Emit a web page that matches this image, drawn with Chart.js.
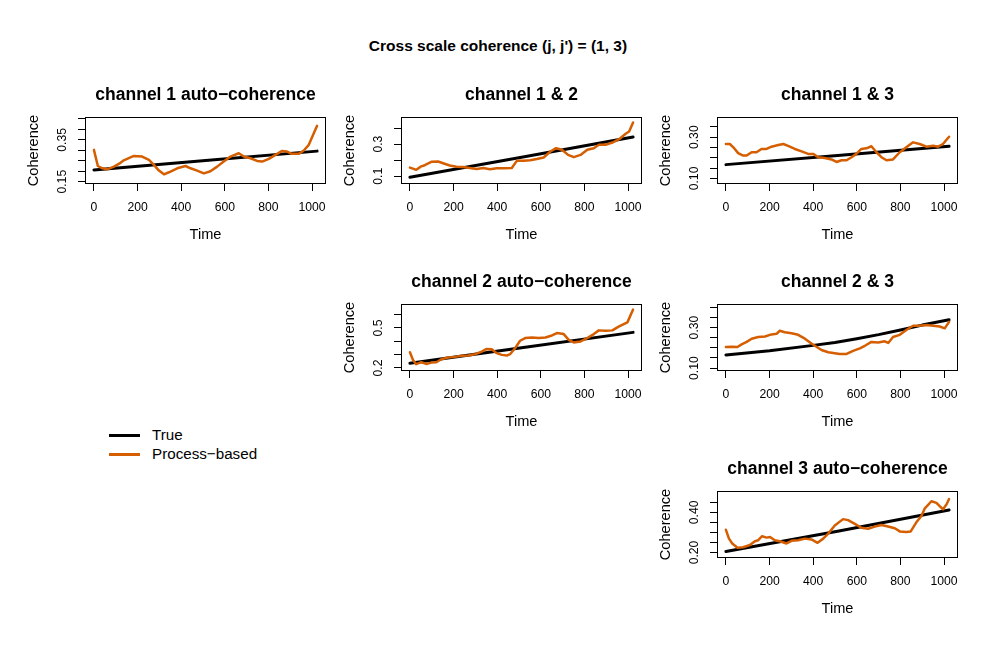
<!DOCTYPE html>
<html>
<head>
<meta charset="utf-8">
<script src="https://cdn.jsdelivr.net/npm/chart.js@4.4.1/dist/chart.umd.min.js"></script>
<style>
  body { margin: 0; background: #fff; }
  #page { position: relative; width: 996px; height: 664px; overflow: hidden;
          font-family: "Liberation Sans", Arial, sans-serif; color: #000; }
  canvas { position: absolute; }
  .main { position: absolute; left: 0; width: 996px; top: 36px; text-align: center;
          font-weight: bold; font-size: 15.5px; line-height: 20px; }
  .legline { position: absolute; left: 109px; width: 31px; }
  .legtext { position: absolute; left: 152px; font-size: 15.2px; line-height: 18px; white-space: nowrap; }
</style>
</head>
<body>
<div id="page">
  <div class="main">Cross scale coherence (j, j') = (1, 3)</div>

  <canvas id="p1"></canvas>
  <canvas id="p2"></canvas>
  <canvas id="p3"></canvas>
  <canvas id="p4"></canvas>
  <canvas id="p5"></canvas>
  <canvas id="p6"></canvas>

  <div class="legline" style="top:434px;height:3px;background:#000"></div>
  <div class="legtext" style="top:426px">True</div>
  <div class="legline" style="top:453px;height:2.5px;background:#D55E00"></div>
  <div class="legtext" style="top:445px">Process&minus;based</div>
</div>

<script>
'use strict';
// ── Données ────────────────────────────────────────────────────────────────
const xTicks = [0, 200, 400, 600, 800, 1000];
const xLabels = ['0', '200', '400', '600', '800', '1000'];

// channel 1 auto-coherence
const tEst1 = [0, 18, 38, 61, 92, 122, 137, 183, 221, 252, 275, 298, 321, 344, 382, 420, 443, 473, 504, 534, 565, 595, 626, 664, 687, 718, 748, 771, 802, 832, 863, 885, 908, 939, 962, 985, 1005, 1023];
const est1  = [0.302, 0.225, 0.214, 0.209, 0.222, 0.240, 0.252, 0.273, 0.270, 0.254, 0.230, 0.203, 0.185, 0.195, 0.214, 0.225, 0.214, 0.203, 0.190, 0.200, 0.222, 0.246, 0.270, 0.286, 0.270, 0.262, 0.249, 0.246, 0.259, 0.278, 0.297, 0.294, 0.283, 0.283, 0.299, 0.326, 0.374, 0.417];
const tTrue1 = [0, 512, 1023];
const true1  = [0.206, 0.251, 0.296];
const yTicks1  = [0.15, 0.20, 0.25, 0.30, 0.35, 0.40, 0.45];
const yLabels1 = ['0.15', '', '', '', '0.35', '', ''];

// channel 1 & 2
const tEst2 = [0, 14, 29, 49, 68, 98, 129, 152, 183, 214, 244, 275, 306, 336, 367, 398, 429, 467, 490, 521, 551, 582, 613, 644, 670, 697, 725, 751, 782, 813, 843, 866, 897, 928, 959, 989, 1005, 1023];
const est2  = [0.154, 0.148, 0.140, 0.160, 0.169, 0.190, 0.192, 0.181, 0.167, 0.160, 0.158, 0.152, 0.146, 0.152, 0.144, 0.150, 0.150, 0.152, 0.196, 0.196, 0.200, 0.208, 0.217, 0.254, 0.275, 0.265, 0.233, 0.219, 0.233, 0.265, 0.275, 0.296, 0.296, 0.310, 0.331, 0.365, 0.379, 0.435];
const tTrue2 = [0, 512, 1023];
const true2  = [0.094, 0.219, 0.344];
const yTicks2  = [0.1, 0.2, 0.3, 0.4];
const yLabels2 = ['0.1', '', '0.3', ''];

// channel 1 & 3
const tEst3 = [0, 18, 34, 56, 79, 95, 118, 140, 163, 186, 209, 240, 263, 285, 316, 347, 377, 400, 423, 453, 484, 507, 530, 553, 576, 598, 621, 644, 667, 690, 713, 736, 766, 797, 827, 858, 888, 919, 950, 973, 995, 1023];
const est3  = [0.267, 0.267, 0.251, 0.223, 0.211, 0.211, 0.227, 0.227, 0.243, 0.243, 0.254, 0.262, 0.267, 0.258, 0.243, 0.231, 0.219, 0.219, 0.203, 0.199, 0.192, 0.180, 0.188, 0.188, 0.203, 0.219, 0.243, 0.246, 0.256, 0.227, 0.203, 0.188, 0.192, 0.227, 0.251, 0.275, 0.267, 0.254, 0.259, 0.254, 0.267, 0.302];
const tTrue3 = [0, 512, 1023];
const true3  = [0.167, 0.211, 0.256];
const yTicks3  = [0.10, 0.15, 0.20, 0.25, 0.30, 0.35];
const yLabels3 = ['0.10', '', '', '', '0.30', ''];

// channel 2 auto-coherence
const tEst4 = [0, 14, 29, 52, 75, 98, 121, 144, 175, 206, 237, 267, 298, 329, 352, 375, 398, 421, 444, 459, 482, 505, 528, 559, 590, 621, 651, 674, 705, 728, 751, 782, 813, 843, 866, 897, 928, 959, 997, 1023];
const est4  = [0.318, 0.260, 0.228, 0.243, 0.230, 0.240, 0.243, 0.265, 0.278, 0.283, 0.291, 0.293, 0.303, 0.323, 0.343, 0.341, 0.311, 0.298, 0.293, 0.303, 0.348, 0.404, 0.424, 0.429, 0.424, 0.429, 0.444, 0.462, 0.454, 0.411, 0.391, 0.399, 0.424, 0.454, 0.482, 0.479, 0.482, 0.512, 0.542, 0.638];
const tTrue4 = [0, 512, 1023];
const true4  = [0.235, 0.351, 0.467];
const yTicks4  = [0.2, 0.3, 0.4, 0.5, 0.6];
const yLabels4 = ['0.2', '', '', '0.5', ''];

// channel 2 & 3
const tEst5 = [0, 26, 53, 72, 95, 118, 148, 179, 209, 232, 247, 270, 301, 331, 362, 392, 415, 438, 469, 499, 522, 553, 583, 614, 637, 667, 698, 728, 744, 766, 797, 827, 858, 888, 919, 950, 980, 1003, 1023];
const est5  = [0.204, 0.205, 0.204, 0.217, 0.229, 0.245, 0.253, 0.256, 0.266, 0.269, 0.284, 0.277, 0.272, 0.264, 0.245, 0.221, 0.205, 0.189, 0.178, 0.173, 0.169, 0.170, 0.185, 0.197, 0.210, 0.229, 0.226, 0.232, 0.224, 0.253, 0.264, 0.288, 0.309, 0.309, 0.312, 0.309, 0.305, 0.296, 0.328];
const tTrue5 = [0, 200, 400, 500, 600, 700, 800, 900, 1023];
const true5  = [0.165, 0.185, 0.212, 0.226, 0.245, 0.265, 0.288, 0.312, 0.338];
const yTicks5  = [0.10, 0.15, 0.20, 0.25, 0.30, 0.35, 0.40];
const yLabels5 = ['0.10', '', '', '', '0.30', '', ''];

// channel 3 auto-coherence
const tEst6 = [0, 14, 29, 53, 79, 110, 133, 148, 166, 186, 202, 224, 247, 278, 301, 331, 362, 392, 420, 446, 469, 499, 537, 560, 591, 621, 652, 682, 713, 743, 774, 797, 827, 847, 873, 896, 911, 942, 965, 995, 1011, 1023];
const est6  = [0.313, 0.269, 0.245, 0.224, 0.226, 0.237, 0.256, 0.261, 0.281, 0.274, 0.277, 0.261, 0.256, 0.245, 0.258, 0.261, 0.269, 0.265, 0.248, 0.269, 0.294, 0.334, 0.366, 0.361, 0.342, 0.323, 0.318, 0.329, 0.337, 0.329, 0.321, 0.305, 0.302, 0.305, 0.350, 0.382, 0.418, 0.455, 0.447, 0.415, 0.439, 0.466];
const tTrue6 = [0, 512, 1023];
const true6  = [0.205, 0.306, 0.411];
const yTicks6  = [0.20, 0.25, 0.30, 0.35, 0.40, 0.45];
const yLabels6 = ['0.20', '', '', '', '0.40', ''];

// ── Mise en page ─────────────────────────────────────────────────────────────
const FONT = '"Liberation Sans", Arial, sans-serif';
const ORANGE = '#D55E00';
const X_RANGE = [-40.92, 1063.92];      // 0..1023 étendu de 4 % (style R)
const M = { left: 80, top: 45, right: 20, bottom: 75 };
const BOX_W = 241, BOX_H = 67;

Chart.defaults.font.family = FONT;
Chart.defaults.color = '#000';

const mctx = document.createElement('canvas').getContext('2d');
function textW(s, px) { mctx.font = px + 'px ' + FONT; return mctx.measureText(s).width; }

const boxPlugin = {
  id: 'rbox',
  afterDatasetsDraw(chart) {
    const { ctx, chartArea: a } = chart;
    ctx.save();
    ctx.strokeStyle = '#000';
    ctx.lineWidth = 1;
    ctx.strokeRect(Math.round(a.left) + 0.5, Math.round(a.top) + 0.5, Math.round(a.width) - 1, Math.round(a.height) - 1);
    ctx.restore();
  }
};

const pts = (t, v) => t.map((x, i) => ({ x, y: v[i] }));

function makePanel(id, left, top, title, tEst, est, tTrue, tru, yMin, yMax, yTicks, yLabels) {
  const cv = document.getElementById(id);
  const w = M.left + BOX_W + M.right, h = M.top + BOX_H + M.bottom;
  cv.width = w; cv.height = h;
  cv.style.left = (left - M.left) + 'px';
  cv.style.top = (top - M.top) + 'px';
  cv.style.width = w + 'px'; cv.style.height = h + 'px';

  const widest = Math.max(...yLabels.map(s => textW(s, 12)));
  const yPad = 15 - widest / 2;

  return new Chart(cv, {
    type: 'line',
    data: {
      datasets: [
        { label: 'Process\u2212based', data: pts(tEst, est), borderColor: ORANGE, borderWidth: 2.5, order: 0 },
        { label: 'True', data: pts(tTrue, tru), borderColor: '#000', borderWidth: 3, order: 1 },
      ],
    },
    options: {
      responsive: false, animation: false, events: [],
      devicePixelRatio: 1,
      layout: { padding: { left: 0, top: 0, right: M.right, bottom: 0 } },
      elements: { point: { radius: 0 }, line: { tension: 0, borderCapStyle: 'round', borderJoinStyle: 'round' } },
      plugins: {
        legend: { display: false },
        tooltip: { enabled: false },
        title: {
          display: true, text: title, fullSize: false,
          font: { size: 17.5, weight: 'bold', family: FONT, lineHeight: 1.2 },
          padding: { top: 12.5, bottom: 11.5 }, color: '#000',
        },
      },
      scales: {
        x: {
          type: 'linear', min: X_RANGE[0], max: X_RANGE[1],
          afterBuildTicks: s => { s.ticks = xTicks.map(v => ({ value: v })); },
          afterFit: s => { s.height = M.bottom; },
          ticks: { autoSkip: false, maxRotation: 0, padding: 9, font: { size: 12.2 }, color: '#000',
                   callback: (v, i) => xLabels[i] },
          grid: { display: true, drawOnChartArea: false, drawTicks: true, tickLength: 7, color: '#000', lineWidth: 1 },
          border: { display: false },
          title: { display: true, text: 'Time', font: { size: 14.6, family: FONT, lineHeight: 1.2 },
                   padding: { top: 0, bottom: 14.8 }, color: '#000' },
        },
        y: {
          type: 'linear', min: yMin, max: yMax,
          afterBuildTicks: s => { s.ticks = yTicks.map(v => ({ value: v })); },
          afterFit: s => { s.width = M.left; },
          ticks: { autoSkip: false, minRotation: 90, maxRotation: 90, crossAlign: 'center', padding: yPad,
                   font: { size: 12.2 }, color: '#000', callback: (v, i) => yLabels[i] },
          grid: { display: true, drawOnChartArea: false, drawTicks: true, tickLength: 7, color: '#000', lineWidth: 1 },
          border: { display: false },
          title: { display: true, text: 'Coherence', font: { size: 14.6, family: FONT, lineHeight: 1.2 },
                   padding: { top: 20.2, bottom: 0 }, color: '#000' },
        },
      },
    },
    plugins: [boxPlugin],
  });
}

makePanel('p1', 85, 117, 'channel 1 auto\u2212coherence', tEst1, est1, tTrue1, true1, 0.139, 0.459, yTicks1, yLabels1);
makePanel('p2', 401, 117, 'channel 1 & 2', tEst2, est2, tTrue2, true2, 0.052, 0.469, yTicks2, yLabels2);
makePanel('p3', 717, 117, 'channel 1 & 3', tEst3, est3, tTrue3, true3, 0.073, 0.398, yTicks3, yLabels3);
makePanel('p4', 401, 304, 'channel 2 auto\u2212coherence', tEst4, est4, tTrue4, true4, 0.177, 0.680, yTicks4, yLabels4);
makePanel('p5', 717, 304, 'channel 2 & 3', tEst5, est5, tTrue5, true5, 0.0856, 0.416, yTicks5, yLabels5);
makePanel('p6', 717, 491, 'channel 3 auto\u2212coherence', tEst6, est6, tTrue6, true6, 0.1726, 0.506, yTicks6, yLabels6);
</script>
</body>
</html>
